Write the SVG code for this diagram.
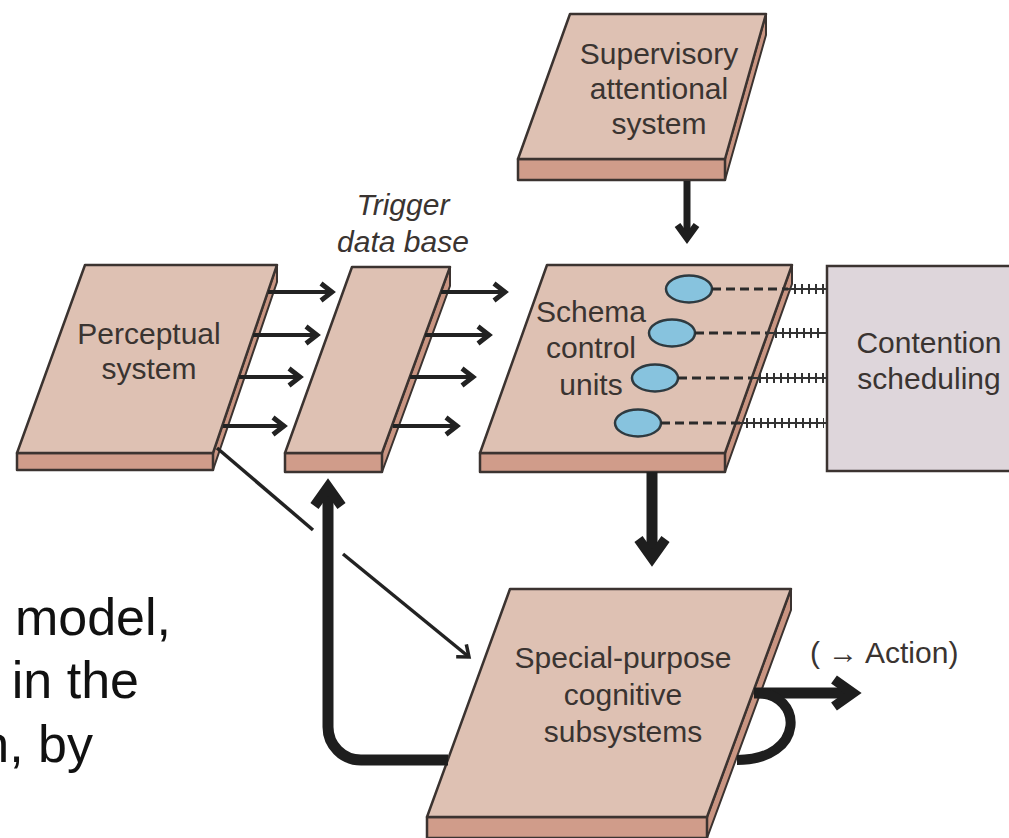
<svg xmlns="http://www.w3.org/2000/svg" width="1009" height="838" viewBox="0 0 1009 838">
<style>
.top{fill:#dec1b3;stroke:#3b3330;stroke-width:2.5;stroke-linejoin:round}
.front{fill:#d09c8a;stroke:#3b3330;stroke-width:2.5;stroke-linejoin:round}
.side{fill:#c99582;stroke:#3b3330;stroke-width:2;stroke-linejoin:round}
.lbl{font-family:"Liberation Sans",Arial,Helvetica,sans-serif;font-size:30px;fill:#3a3431;text-anchor:middle}
.it{font-style:italic}
.big{font-family:"Liberation Sans",Arial,Helvetica,sans-serif;font-size:52px;fill:#111;text-anchor:end}
.thin{fill:none;stroke:#222;stroke-width:4;marker-end:url(#ah)}
.thick{fill:none;stroke:#1e1e1e;stroke-width:11;marker-end:url(#ahT)}
.unit{fill:#87c3de;stroke:#2e3a40;stroke-width:2.5}
.dash{fill:none;stroke:#2b2b2b;stroke-width:3;stroke-dasharray:9 5}
.hline{fill:none;stroke:#333;stroke-width:2}
.ticks{fill:none;stroke:#333;stroke-width:10;stroke-dasharray:2 5}
</style>
<defs>
<marker id="ah" markerUnits="userSpaceOnUse" viewBox="-20 -20 40 40" markerWidth="40" markerHeight="40" refX="0" refY="0" orient="auto" overflow="visible">
<path d="M-10,-8.5 L1,0 L-10,8.5" fill="none" stroke="#222" stroke-width="4.8" stroke-linejoin="miter"/>
</marker>
<marker id="ahS" markerUnits="userSpaceOnUse" viewBox="-20 -20 40 40" markerWidth="40" markerHeight="40" refX="0" refY="0" orient="auto" overflow="visible">
<path d="M-10,-8 L0,0 L-10,8" fill="none" stroke="#222" stroke-width="3.5" stroke-linejoin="miter"/>
</marker>
<marker id="ahM" markerUnits="userSpaceOnUse" viewBox="-30 -30 60 60" markerWidth="60" markerHeight="60" refX="0" refY="0" orient="auto" overflow="visible">
<path d="M-13,-9.5 L0,0 L-13,9.5" fill="none" stroke="#1e1e1e" stroke-width="7" stroke-linejoin="miter"/>
</marker>
<marker id="ahT" markerUnits="userSpaceOnUse" viewBox="-40 -40 80 80" markerWidth="80" markerHeight="80" refX="0" refY="0" orient="auto" overflow="visible">
<path d="M-19,-13.5 L0,0 L-19,13.5" fill="none" stroke="#1e1e1e" stroke-width="10" stroke-linejoin="miter"/>
</marker>
</defs>
<rect width="1009" height="838" fill="#fff"/>

<g id="left-text">
<text class="big" x="171" y="635">model,</text>
<text class="big" x="139" y="698">in the</text>
<text class="big" x="93" y="762">n, by</text>
</g>

<g id="supervisory">
<polygon class="side" points="766,14 725,159 725,180 766,35"/>
<rect class="front" x="518" y="159" width="207" height="21"/>
<polygon class="top" points="570,14 766,14 725,159 518,159"/>
<text class="lbl" x="659" y="64">Supervisory</text>
<text class="lbl" x="659" y="99">attentional</text>
<text class="lbl" x="659" y="134">system</text>
</g>

<g id="perceptual">
<polygon class="side" points="277,265 213,453 213,470 277,282"/>
<rect class="front" x="17" y="453" width="196" height="17"/>
<polygon class="top" points="85,265 277,265 213,453 17,453"/>
<text class="lbl" x="149" y="344">Perceptual</text>
<text class="lbl" x="149" y="379">system</text>
</g>

<g id="trigger">
<polygon class="side" points="450,267 382,453 382,472 450,286"/>
<rect class="front" x="285" y="453" width="97" height="19"/>
<polygon class="top" points="352,267 450,267 382,453 285,453"/>
<text class="lbl it" x="403" y="215">Trigger</text>
<text class="lbl it" x="403" y="252">data base</text>
</g>

<g id="schema">
<polygon class="side" points="792,265 725,453 725,472 792,284"/>
<rect class="front" x="480" y="453" width="245" height="19"/>
<polygon class="top" points="547,265 792,265 725,453 480,453"/>
<text class="lbl" x="591" y="322">Schema</text>
<text class="lbl" x="591" y="358">control</text>
<text class="lbl" x="591" y="395">units</text>
<ellipse class="unit" cx="689" cy="289" rx="23" ry="13.5"/>
<ellipse class="unit" cx="672" cy="333" rx="23" ry="13.5"/>
<ellipse class="unit" cx="655" cy="378" rx="23" ry="13.5"/>
<ellipse class="unit" cx="638" cy="423" rx="23" ry="13.5"/>
</g>

<g id="contention">
<rect x="827" y="266" width="200" height="205" fill="#ded6db" stroke="#3b3330" stroke-width="2.5"/>
<text class="lbl" x="929" y="353">Contention</text>
<text class="lbl" x="929" y="389">scheduling</text>
</g>

<g id="special">
<polygon class="side" points="791,589 707,817 707,838 791,610"/>
<rect class="front" x="427" y="817" width="280" height="21"/>
<polygon class="top" points="510,589 791,589 707,817 427,817"/>
<text class="lbl" x="623" y="668">Special-purpose</text>
<text class="lbl" x="623" y="705">cognitive</text>
<text class="lbl" x="623" y="742">subsystems</text>
</g>

<g id="action-label">
<text class="lbl" style="text-anchor:start" x="810" y="663">(</text>
<text class="lbl" style="text-anchor:start" x="828" y="663" textLength="30" lengthAdjust="spacingAndGlyphs">→</text>
<text class="lbl" style="text-anchor:start" x="865" y="663">Action)</text>
</g>

<g id="connectors">
<line class="thin" x1="268" y1="292" x2="331" y2="292"/>
<line class="thin" x1="253" y1="335" x2="316" y2="335"/>
<line class="thin" x1="239" y1="377" x2="299" y2="377"/>
<line class="thin" x1="223" y1="426" x2="283" y2="426"/>
<line class="thin" x1="441" y1="292" x2="504" y2="292"/>
<line class="thin" x1="425" y1="335" x2="488" y2="335"/>
<line class="thin" x1="410" y1="377" x2="472" y2="377"/>
<line class="thin" x1="393" y1="426" x2="456" y2="426"/>
<line class="dash" x1="712" y1="289" x2="788" y2="289"/>
<line class="dash" x1="695" y1="333" x2="767" y2="333"/>
<line class="dash" x1="678" y1="378" x2="752" y2="378"/>
<line class="dash" x1="661" y1="423" x2="740" y2="423"/>
<line class="hline" x1="788" y1="289" x2="827" y2="289"/>
<line class="hline" x1="767" y1="333" x2="827" y2="333"/>
<line class="hline" x1="752" y1="378" x2="827" y2="378"/>
<line class="hline" x1="740" y1="423" x2="827" y2="423"/>
<line class="ticks" x1="794" y1="289" x2="824" y2="289"/>
<line class="ticks" x1="775" y1="333" x2="824" y2="333"/>
<line class="ticks" x1="759" y1="378" x2="824" y2="378"/>
<line class="ticks" x1="746" y1="423" x2="824" y2="423"/>
<line x1="687" y1="181" x2="687" y2="238" fill="none" stroke="#1e1e1e" stroke-width="7" marker-end="url(#ahM)"/>
<line class="thick" x1="652" y1="472" x2="652" y2="558"/>
<path class="thick" d="M448,760 H361 A33,33 0 0 1 328,727 V487"/>
<line x1="217" y1="448" x2="313" y2="530" stroke="#222" stroke-width="3.5"/>
<line x1="343" y1="554" x2="469" y2="657" fill="none" stroke="#222" stroke-width="3.5" marker-end="url(#ahS)"/>
<line class="thick" x1="754" y1="693" x2="853" y2="693"/>
<path d="M756,693 C804,693 806,760 737,760" fill="none" stroke="#1e1e1e" stroke-width="10"/>
</g>
</svg>
